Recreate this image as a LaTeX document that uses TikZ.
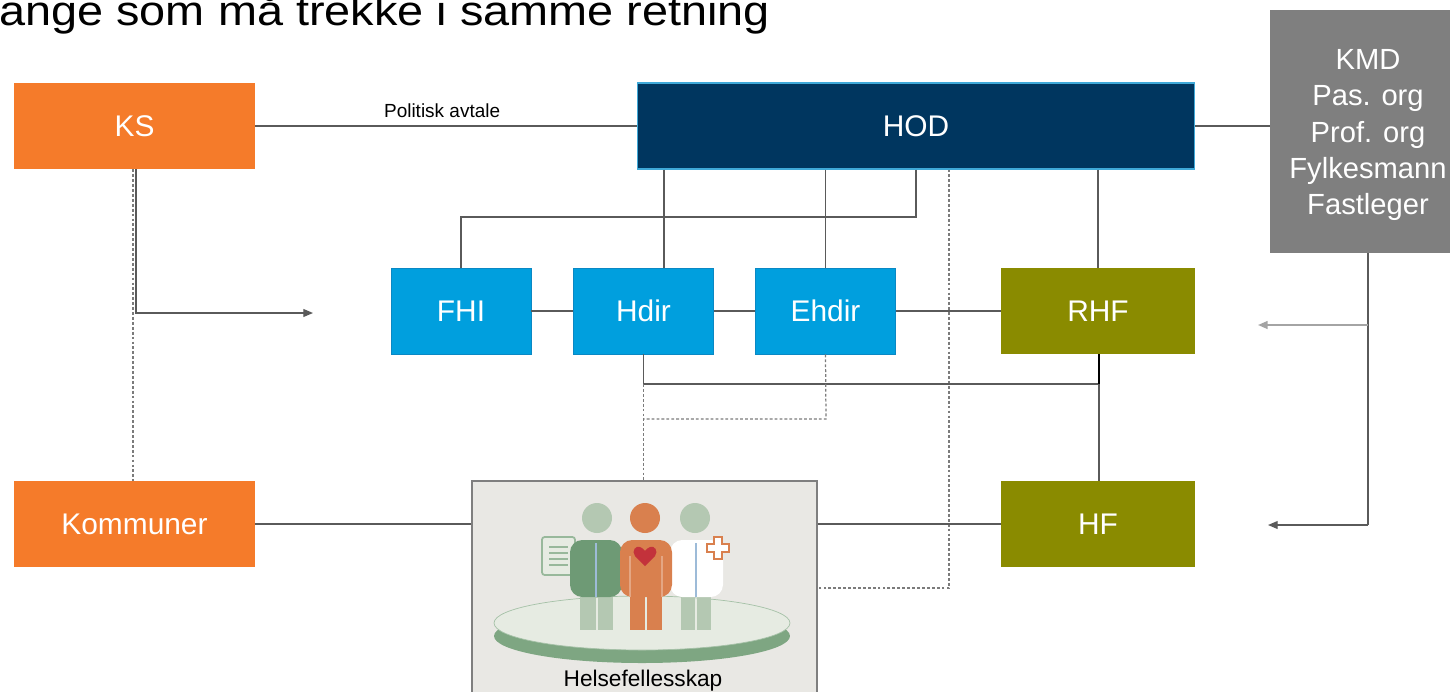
\documentclass[tikz,border=0pt]{standalone}
\usepackage{fontspec}
\setmainfont{Liberation Sans}
\usetikzlibrary{arrows.meta}

\definecolor{ksorange}{HTML}{F57B2A}
\definecolor{hodblue}{HTML}{00365F}
\definecolor{hodedge}{HTML}{3FA9D8}
\definecolor{dirblue}{HTML}{009FDE}
\definecolor{diredge}{HTML}{0A88C4}
\definecolor{olive}{HTML}{8A8B00}
\definecolor{kmdgray}{HTML}{7F7F7F}
\definecolor{linegray}{HTML}{5A5A5A}
\definecolor{panelbg}{HTML}{E9E8E4}
\definecolor{darkgreen}{HTML}{6E9A75}
\definecolor{palegreen}{HTML}{B4C8B2}
\definecolor{platetop}{HTML}{E6EBE2}
\definecolor{plateside}{HTML}{7EA682}
\definecolor{personorange}{HTML}{D9804E}
\definecolor{heartred}{HTML}{C3323B}
\definecolor{coatline}{HTML}{9DBBD8}

\tikzset{
  box/.style={rectangle, inner sep=0pt, text=white,
    font=\fontsize{17}{20}\selectfont},
  orgbox/.style={box, fill=ksorange, minimum width=4.82cm, minimum height=1.72cm},
  dirbox/.style={box, fill=dirblue, draw=diredge, line width=0.5pt,
    minimum width=2.81cm, minimum height=1.72cm},
  hfbox/.style={box, fill=olive, minimum width=3.88cm, minimum height=1.72cm},
  conn/.style={draw=linegray, line width=0.7pt},
  dotline/.style={draw=linegray!80, line width=0.7pt, dash pattern=on 1.6pt off 1.2pt},
  tip/.style={-{Triangle[length=5.5pt,width=4.5pt]}},
}

\begin{document}
\begin{tikzpicture}[x=0.02cm,y=-0.02cm]
\useasboundingbox (0,0) rectangle (1450,691);

% heading
\node[anchor=base west, inner sep=0pt, font=\fontsize{23.8}{28}\selectfont,
      xscale=1.12, transform shape]
  (title) at (-1,25) {ange som må trekke i samme retning};

% organisations
\node[orgbox] (KS) at (134.5,126) {KS};
\node[box, fill=hodblue, draw=hodedge, line width=0.6pt,
      minimum width=11.16cm, minimum height=1.72cm] (HOD) at (916,126) {HOD};
\node[box, fill=kmdgray, minimum width=3.92cm, minimum height=4.86cm] (KMD) at (1368,131.5) {};
\node[align=center, inner sep=0pt, text=white, font=\fontsize{16.6}{20.6}\selectfont]
  (kmdtext) at (1368,135) {KMD\\Pas. org\\Prof. org\\Fylkesmann\\Fastleger};
\node[dirbox, minimum width=2.8cm] (FHI) at (461,311) {FHI};
\node[dirbox] (Hdir) at (643.5,311) {Hdir};
\node[dirbox] (Ehdir) at (825.5,311) {Ehdir};
\node[hfbox] (RHF) at (1098,311) {RHF};
\node[orgbox] (Kom) at (134.5,524) {Kommuner};
\node[hfbox] (HF) at (1098,524) {HF};
\node[rectangle, fill=panelbg, draw=kmdgray, line width=0.7pt, inner sep=0pt,
      minimum width=6.9cm, minimum height=4.38cm] (Helse) at (644.5,590.5) {};

% helper points for the connectors
\coordinate (ksx) at (136,0);
\coordinate (ksdot) at (133,0);
\coordinate (ksEnd) at (313,313);
\coordinate (hdirx) at (664,0);
\coordinate (fhiTurn) at (916,217);
\coordinate (dashTurn) at (949,588);
\coordinate (rhfJoin) at (1099,384);
\coordinate (ehTurn) at (826,419);
\coordinate (kmdMid) at (1368,325);
\coordinate (kmdLow) at (1368,525);
\coordinate (arrRHF) at (1258,325);
\coordinate (arrHF) at (1268,525);

% connectors
\draw[conn] (KS.east) -- (HOD.west)
  node[pos=0.49, above=1pt, text=black, font=\fontsize{10.8}{12}\selectfont] (avtale) {Politisk avtale};
\draw[conn] (HOD.east) -- (KMD.west |- HOD.east);
\draw[conn, tip] (KS.south -| ksx) |- (ksEnd);
\draw[dotline] (KS.south -| ksdot) -- (Kom.north -| ksdot);

\draw[conn] (HOD.south -| hdirx) -- (Hdir.north -| hdirx);
\draw[conn] (HOD.south -| Ehdir.north) -- (Ehdir.north);
\draw[conn] (HOD.south -| fhiTurn) -- (fhiTurn) -| (FHI.north);
\draw[conn, line width=0.9pt] (HOD.south -| RHF.north) -- (RHF.north);
\draw[dotline] (HOD.south -| dashTurn) -- (dashTurn) -- (Helse.east |- dashTurn);

\draw[conn] (FHI.east) -- (Hdir.west);
\draw[conn] (Hdir.east) -- (Ehdir.west);
\draw[conn] (Ehdir.east) -- (RHF.west);

\draw[conn] (Hdir.south) -- (Hdir.south |- rhfJoin) -- (rhfJoin);
\draw[conn, draw=black, line width=1pt] (RHF.south -| rhfJoin) -- (rhfJoin);
\draw[conn, line width=1pt] (rhfJoin) -- (HF.north -| rhfJoin);
\draw[dotline] (Hdir.south |- rhfJoin) -- (Helse.north -| Hdir.south);
\draw[dotline] (Ehdir.south) -- (ehTurn) -- (Hdir.south |- ehTurn);

\draw[conn] (Kom.east) -- (Helse.west |- Kom.east);
\draw[conn] (Helse.east |- HF.west) -- (HF.west);

\draw[conn] (KMD.south) -- (kmdLow);
\draw[conn, tip] (kmdLow) -- (arrHF);
\draw[conn, draw=linegray!55, line width=0.9pt, tip] (kmdMid) -- (arrRHF);

% the care community: platform with three figures
\fill[plateside] (642,636) ellipse [x radius=2.96cm, y radius=0.54cm];
\filldraw[fill=platetop, draw=plateside!70, line width=0.4pt]
  (642,623) ellipse [x radius=2.96cm, y radius=0.54cm];

% clipboard
\filldraw[fill=platetop, draw=plateside!80, line width=1pt, rounded corners=1.5pt]
  (542,537) rectangle (575,575);
\foreach \yy in {547,553,559,565}
  \draw[plateside!80, line width=1.2pt] (549,\yy) -- (568,\yy);

% left figure
\fill[palegreen] (580,597) rectangle (596,630);
\fill[palegreen] (598,597) rectangle (613,630);
\fill[darkgreen, rounded corners=7pt] (570,597) -- (570,540) -- (622,540) -- (622,597) -- cycle;
\draw[coatline, line width=0.8pt] (596,543) -- (596,597);
\fill[palegreen] (597,518) circle [radius=0.3cm];

% right figure
\fill[palegreen] (681,597) rectangle (695,630);
\fill[palegreen] (697,597) rectangle (711,630);
\fill[white, rounded corners=7pt] (670,597) -- (670,540) -- (723,540) -- (723,597) -- cycle;
\draw[coatline, line width=0.8pt] (696,543) -- (696,597);
\fill[palegreen] (695,518) circle [radius=0.3cm];
\draw[personorange, line width=1.1pt, fill=white]
  (714,537) -- (722,537) -- (722,544) -- (729,544) -- (729,552) -- (722,552)
  -- (722,559) -- (714,559) -- (714,552) -- (707,552) -- (707,544) -- (714,544) -- cycle;

% middle figure
\fill[personorange] (630,595) rectangle (645,630);
\fill[personorange] (647,595) rectangle (662,630);
\fill[personorange, rounded corners=7pt] (620,597) -- (620,540) -- (672,540) -- (672,597) -- cycle;
\draw[personorange!70!white, line width=0.6pt] (630,556) -- (630,597);
\draw[personorange!70!white, line width=0.6pt] (662,556) -- (662,597);
\fill[personorange] (645,518) circle [radius=0.3cm];
\fill[heartred] (645,566) -- (635,556) .. controls (631,551) and (636,545) .. (640,547)
  .. controls (642,548) and (644,549) .. (645,551)
  .. controls (646,549) and (648,548) .. (650,547)
  .. controls (654,545) and (659,551) .. (655,556) -- cycle;

\node[anchor=base, inner sep=0pt, font=\fontsize{12.9}{15}\selectfont]
  (helselabel) at (643,686) {Helsefellesskap};
\end{tikzpicture}
\end{document}
